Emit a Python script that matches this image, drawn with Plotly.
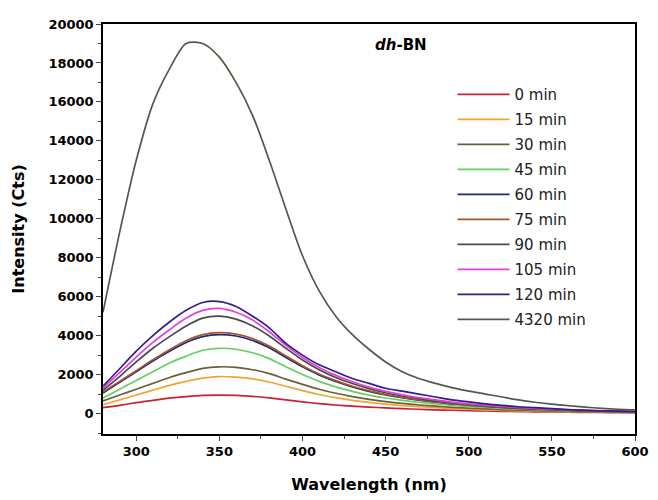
import plotly.graph_objects as go

wavelength = list(range(280, 601, 10))

labels = ["0 min", "15 min", "30 min", "45 min", "60 min", "75 min",
          "90 min", "105 min", "120 min", "4320 min"]

i_0 = [300, 420, 560, 680, 790, 870, 930, 950, 930, 880, 800, 700, 600, 510, 440, 380, 330,
       290, 250, 220, 190, 170, 150, 130, 115, 100, 90, 80, 70, 60, 55, 50, 45]
i_15 = [450, 700, 950, 1200, 1450, 1650, 1820, 1900, 1870, 1780, 1620, 1400, 1180, 980, 820, 680, 570,
        480, 410, 350, 300, 260, 220, 190, 165, 140, 120, 105, 90, 80, 70, 60, 55]
i_30 = [650, 950, 1250, 1550, 1850, 2100, 2320, 2400, 2370, 2250, 2050, 1770, 1500, 1250, 1040, 870, 730,
        610, 520, 440, 380, 320, 280, 240, 205, 175, 150, 130, 110, 95, 85, 75, 65]
i_45 = [800, 1250, 1700, 2150, 2600, 2950, 3250, 3350, 3300, 3120, 2820, 2400, 2000, 1650, 1370, 1140, 950,
        800, 680, 580, 490, 420, 360, 310, 265, 225, 195, 165, 140, 120, 105, 90, 80]
i_60 = [1050, 1600, 2150, 2700, 3200, 3650, 3950, 4050, 3980, 3750, 3380, 2880, 2400, 1980, 1650, 1370, 1140,
        960, 810, 690, 590, 500, 430, 370, 315, 270, 230, 195, 165, 140, 120, 105, 90]
i_75 = [1100, 1650, 2200, 2760, 3280, 3740, 4050, 4150, 4080, 3850, 3470, 2960, 2460, 2030, 1690, 1400, 1170,
        980, 830, 700, 600, 510, 440, 380, 320, 275, 235, 200, 170, 145, 125, 108, 92]
i_90 = [1200, 1900, 2650, 3350, 3950, 4500, 4900, 5000, 4850, 4500, 3980, 3350, 2750, 2250, 1850, 1540, 1280,
        1070, 900, 770, 650, 550, 470, 400, 340, 290, 245, 210, 180, 150, 130, 110, 95]
i_105 = [1300, 2100, 2900, 3650, 4300, 4900, 5300, 5400, 5200, 4800, 4200, 3500, 2880, 2370, 1960, 1630, 1360,
         1140, 960, 820, 700, 590, 500, 430, 365, 310, 265, 225, 190, 160, 140, 120, 100]
i_120 = [1400, 2300, 3200, 4000, 4700, 5300, 5700, 5750, 5500, 5000, 4400, 3600, 3000, 2500, 2150, 1800, 1550,
         1300, 1150, 1000, 850, 700, 600, 500, 420, 350, 300, 250, 200, 170, 140, 120, 100]
i_4320 = [5200, 9300, 13000, 15900, 17700, 19000, 19000, 18300, 17000, 15300, 13000, 10500, 8100, 6300, 5000,
          4050, 3300, 2650, 2150, 1800, 1550, 1330, 1150, 1000, 850, 700, 580, 480, 400, 330, 270, 220, 190]

series = [i_0, i_15, i_30, i_45, i_60, i_75, i_90, i_105, i_120, i_4320]
colors = ["#c8203c", "#f2a330", "#6b5e3a", "#62d062", "#1c2a7a", "#a5562a",
          "#4a4a4a", "#e040e0", "#3a1a8a", "#4f5c48"]

FONT = "DejaVu Sans"

fig = go.Figure()
for name, ys, c in zip(labels, series, colors):
    fig.add_trace(go.Scatter(x=wavelength, y=ys, mode="lines", name=name, legendgroup=name,
                             line=dict(color=c, width=1.7, shape="spline", smoothing=0.8)))

fig.add_annotation(text="<b><i>dh</i>-BN</b>", x=0.56, y=0.95, xref="paper", yref="paper",
                   xanchor="center", yanchor="middle",
                   showarrow=False, font=dict(size=15, color="black", family=FONT))

fig.update_layout(
    width=650, height=492,
    margin=dict(l=95, r=16, t=9, b=66),
    paper_bgcolor="white", plot_bgcolor="white",
    font=dict(family=FONT, color="black"),
    showlegend=True,
    legend=dict(x=0.657, y=0.868, xanchor="left", yanchor="top",
                bgcolor="rgba(0,0,0,0)", font=dict(size=15, color="#222", family=FONT),
                itemwidth=52, traceorder="grouped", tracegroupgap=2.5),
    xaxis=dict(range=[280, 600], tickvals=[300, 350, 400, 450, 500, 550, 600],
               ticks="outside", ticklen=5, tickwidth=1.2,
               minor=dict(dtick=25, ticks="outside", ticklen=3, tickwidth=1, showgrid=False),
               showline=True, linecolor="black", linewidth=1.5, mirror=True,
               showgrid=False, zeroline=False,
               tickfont=dict(size=13, family=FONT, weight="bold"),
               title=dict(text="Wavelength (nm)", font=dict(size=16, weight="bold", family=FONT),
                          standoff=20)),
    yaxis=dict(range=[-1050, 20000], tickvals=list(range(0, 20001, 2000)), tickformat="d",
               ticks="outside", ticklen=5, tickwidth=1.2,
               minor=dict(dtick=1000, ticks="outside", ticklen=3, tickwidth=1, showgrid=False),
               showline=True, linecolor="black", linewidth=1.5, mirror=True,
               showgrid=False, zeroline=False,
               tickfont=dict(size=13, family=FONT, weight="bold"),
               title=dict(text="Intensity (Cts)", font=dict(size=16, weight="bold", family=FONT),
                          standoff=20)),
)

fig.write_html("out.html")
